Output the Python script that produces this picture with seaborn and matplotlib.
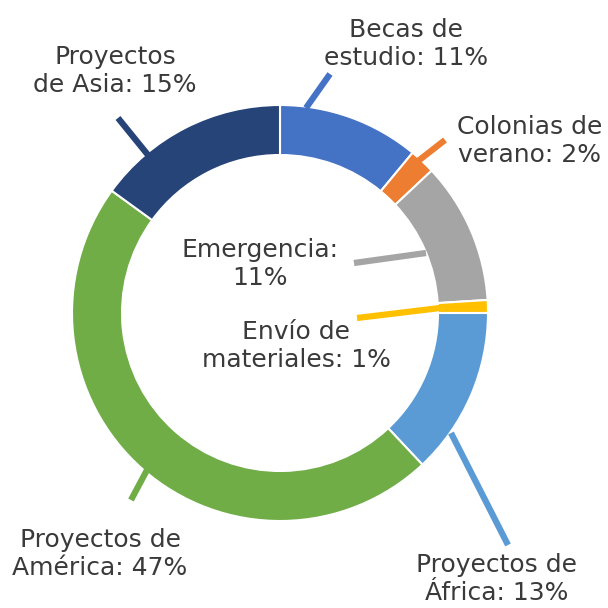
import matplotlib
matplotlib.use('Agg')
import matplotlib.pyplot as plt
import seaborn as sns

# donut data, clockwise from 12 o'clock
categories = ['Becas de\nestudio', 'Colonias de\nverano', 'Emergencia:\n', 'Envío de\nmateriales',
              'Proyectos de\nÁfrica', 'Proyectos de\nAmérica', 'Proyectos\nde Asia']
shares = [11, 2, 11, 1, 13, 47, 15]
colors = ['#4472C4', '#ED7D31', '#A5A5A5', '#FFC000', '#5B9BD5', '#70AD47', '#264478']

# layout in pixels (y from top): label centre, leader line start/end
label_pos = [(406, 44), (530, 141), (260, 264), (296, 346), (497, 579), (100, 554), (115, 71)]
leaders = [((330, 74), (306, 108)), ((445, 140), (404, 172)), ((354, 263), (426, 253)),
           ((357, 318), (440, 308)), ((451, 433), (508, 545)), ((147, 470), (131, 500)),
           ((118, 118), (148, 155))]

sns.set_theme(style='white')
plt.rcParams['font.family'] = ['DejaVu Sans']

W = 608
fig = plt.figure(figsize=(6.08, 6.08), dpi=100)
ax = fig.add_axes([0, 0, 1, 1])

R = 208
ax.pie(shares, colors=colors, startangle=90, counterclock=False, radius=R,
       center=(280, W - 313), frame=True,
       wedgeprops=dict(width=50, edgecolor='white', linewidth=1.5))
ax.set_xlim(0, W)
ax.set_ylim(0, W)
ax.set_aspect('equal')
ax.axis('off')

for (p0, p1), c in zip(leaders, colors):
    ax.plot([p0[0], p1[0]], [W - p0[1], W - p1[1]], color=c, lw=4.5,
            solid_capstyle='butt', zorder=3)

for name, val, (x, y) in zip(categories, shares, label_pos):
    if name.endswith('\n'):
        txt = f'{name}{val}%'
    else:
        txt = f'{name}: {val}%'
    ax.text(x, W - y, txt, ha='center', va='center', fontsize=18,
            color='#3a3a3a', linespacing=1.22, zorder=4)

fig.savefig('out.png', dpi=100, facecolor='white')
